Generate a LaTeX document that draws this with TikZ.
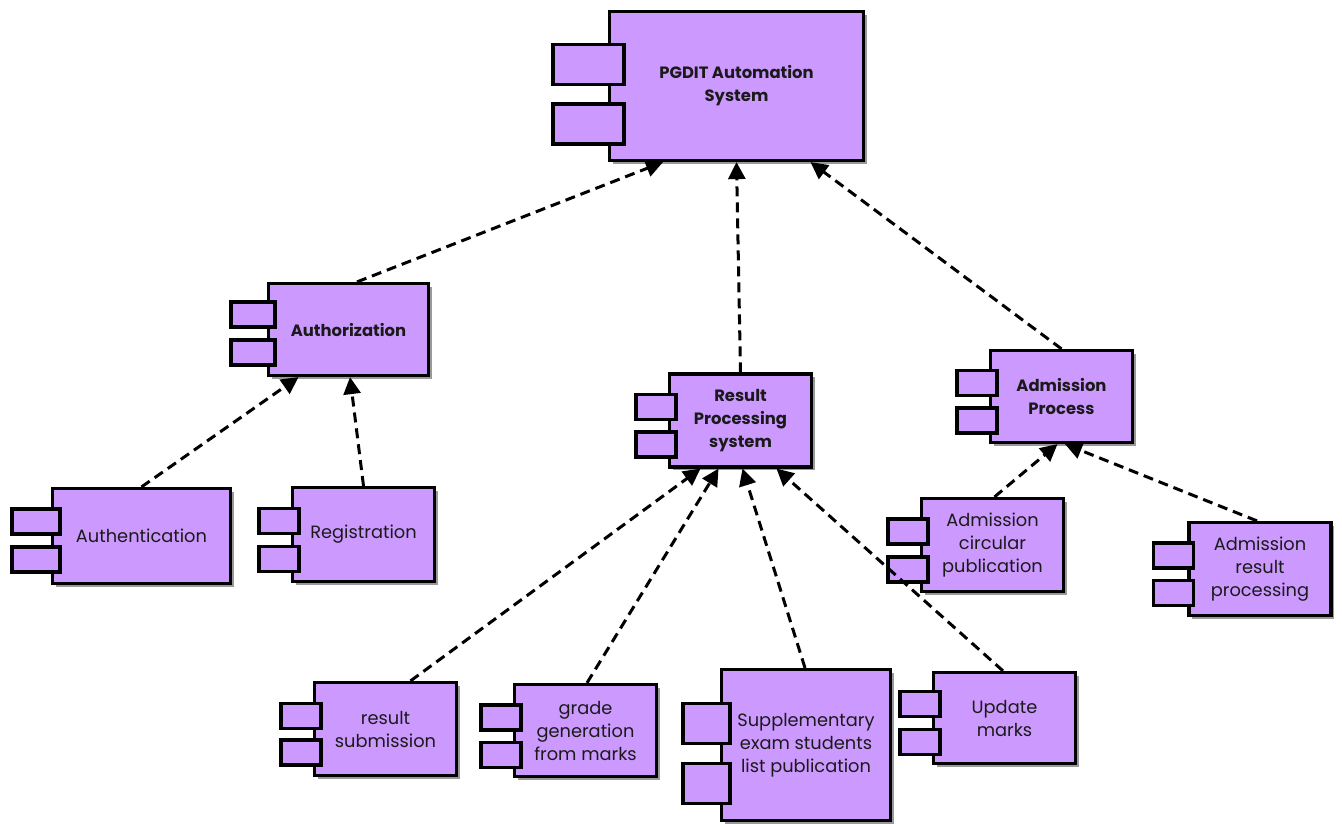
\documentclass[tikz,border=0pt]{standalone}
\usepackage{fontspec}
\setmainfont{Poppins}
\usetikzlibrary{arrows.meta, calc, shadows}

\definecolor{compfill}{HTML}{CC99FF}
\definecolor{comptext}{HTML}{1A1A1A}

\newcommand{\labelfont}{\fontsize{17.8}{23}\selectfont}
\newcommand{\titlefont}{\fontsize{16.4}{23}\selectfont\bfseries}

\tikzset{
  comp/.style = {draw=black, line width=3.2pt, fill=compfill,
    minimum width=142pt, minimum height=93pt, inner sep=2pt,
    align=center, text=comptext, font=\labelfont,
    drop shadow={shadow xshift=3pt, shadow yshift=-3pt, fill=black, opacity=0.4}},
  title/.style = {font=\titlefont},
  tab/.style = {draw=black, line width=3.2pt, fill=compfill,
    minimum width=40pt, minimum height=25pt, inner sep=0pt},
  bigtab/.style = {tab, minimum width=47pt, minimum height=40pt},
  dep/.style = {dash pattern=on 10pt off 6pt, line width=3pt,
    -{Triangle[length=17pt,width=17pt]}},
}

% two small boxes on the left side of a component
\newcommand{\comptabs}[4][tab]{%
  \node (#2-ta) [#1] at ($(#2.west)+(#3)$) {};
  \node (#2-tb) [#1] at ($(#2.west)+(#4)$) {};
}

\begin{document}
\begin{tikzpicture}[x=1pt, y=-1pt]
  \useasboundingbox (0,0) rectangle (1342,823);

  % Top component
  \node (sys) [comp, title, minimum width=254pt, minimum height=149pt]
      at (736.5,86) {PGDIT Automation\\System};
  \comptabs[bigtab, minimum width=71pt]{sys}{-19.5,-21.5}{-19.5,38}

  % Authorization
  \node (authz) [comp, title, minimum width=160pt, minimum height=92pt]
      at (348.5,329.5) {Authorization};
  \comptabs[tab, minimum width=44pt]{authz}{-14,-15}{-14,23}

  % Result processing
  \node (rps) [comp, title] at (740.5,420.5) {Result\\Processing\\system};
  \comptabs{rps}{-12,-13.5}{-12,24}

  % Admission
  \node (adm) [comp, title, minimum height=92pt] at (1061.5,396.5)
      {Admission\\Process};
  \comptabs{adm}{-12,-13.5}{-12,24}

  % Children of Authorization
  \node (authn) [comp, minimum width=178pt, minimum height=95pt]
      at (141.5,536) {Authentication};
  \comptabs[tab, minimum width=48pt]{authn}{-15,-14.5}{-15,23.5}

  \node (reg) [comp, minimum height=94pt] at (363.5,534.5) {Registration};
  \comptabs{reg}{-12,-13.5}{-12,24.5}

  % Children of Admission
  \node (circ) [comp] at (992.5,545)
      {Admission\\circular\\publication};
  \comptabs{circ}{-12,-13.5}{-12,24.5}

  \node (admres) [comp] at (1260,569)
      {Admission\\result\\processing};
  \comptabs{admres}{-14,-13.5}{-14,24}

  % Children of Result processing
  \node (ressub) [comp] at (385.5,729) {result\\submission};
  \comptabs{ressub}{-12,-13}{-12,23.5}

  \node (grade) [comp, minimum height=92pt] at (585.5,730.5)
      {grade\\generation\\from marks};
  \comptabs{grade}{-12,-13}{-12,24.5}

  \node (supp) [comp, minimum width=169pt, minimum height=151pt]
      at (806,745) {Supplementary\\exam students\\list publication};
  \comptabs[bigtab]{supp}{-13.5,-21.5}{-13.5,38.5}

  \node (upd) [comp, minimum height=91pt] at (1004.5,718)
      {Update\\marks};
  \comptabs{upd}{-12,-14}{-12,24}

  % Dependencies
  \path [dep]
    ([xshift=8.5pt]authz.north) edge ([xshift=-73.5pt]sys.south)
    (rps.north) edge (sys.south)
    (adm.north) edge ([xshift=74pt]sys.south)
    (authn.north) edge ([xshift=-50pt]authz.south)
    (reg.north) edge ([xshift=1.5pt]authz.south)
    ([xshift=25pt]ressub.north) edge ([xshift=-40pt]rps.south)
    ([xshift=1.5pt]grade.north) edge ([xshift=-22pt]rps.south)
    ([xshift=-1pt]supp.north) edge ([xshift=2pt]rps.south)
    ([xshift=-1.5pt]upd.north) edge ([xshift=36pt]rps.south)
    ([xshift=2pt]circ.north) edge ([xshift=-4pt]adm.south)
    ([xshift=-3pt]admres.north) edge ([xshift=3.5pt]adm.south);
\end{tikzpicture}
\end{document}
